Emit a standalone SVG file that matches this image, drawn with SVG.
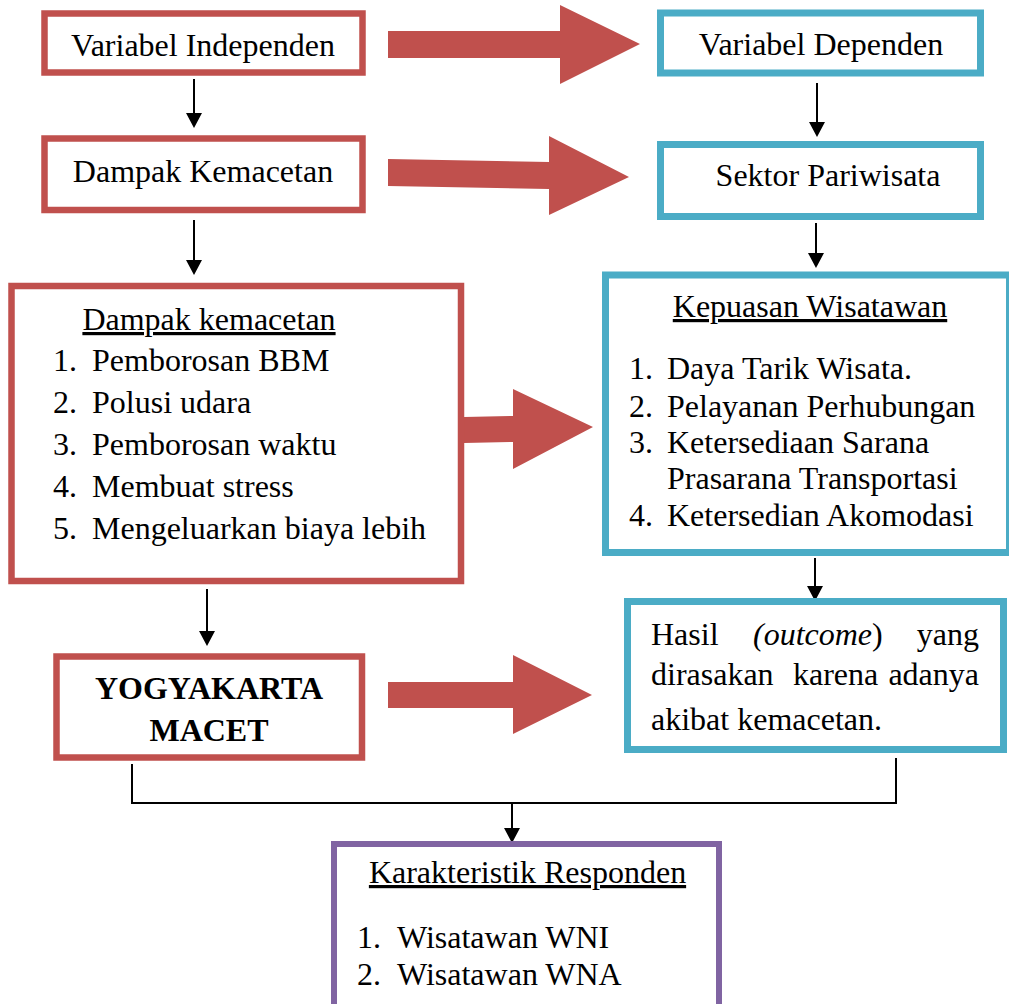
<svg xmlns="http://www.w3.org/2000/svg" width="1009" height="1004" viewBox="0 0 1009 1004">
<style>
.t{font-family:"Liberation Serif","Times New Roman",serif;font-size:32px;fill:#000}
.b{font-weight:bold}
.u{text-decoration:underline}
.red{fill:#fff;stroke:#C0504D;stroke-width:6.5}
.blue{fill:#fff;stroke:#4BACC6;stroke-width:7}
.pur{fill:#fff;stroke:#8064A2;stroke-width:6}
.big{fill:#C0504D}
.ln{fill:none;stroke:#000;stroke-width:2}
</style>
<defs>
<marker id="ah" markerUnits="userSpaceOnUse" markerWidth="15" markerHeight="16" viewBox="0 0 15 16" refX="0" refY="8" orient="auto">
<path d="M0,0 L15,8 L0,16 z" fill="#000"/>
</marker>
</defs>
<rect width="1009" height="1004" fill="#fff"/>

<g id="connectors">
<polygon class="big" points="388,31 560,31 560,5 640,44 560,84 560,58 388,58"/>
<polygon class="big" points="388,159 549,162 549,136 629,177 549,215 549,189 388,186"/>
<polygon class="big" points="464,417 513,416 513,389 593,427 513,469 513,442 464,443"/>
<polygon class="big" points="388,682 513,682 513,655 592,695 513,734 513,708 388,708"/>
<line class="ln" x1="194" y1="79" x2="194" y2="113" marker-end="url(#ah)"/>
<line class="ln" x1="194" y1="220" x2="194" y2="260" marker-end="url(#ah)"/>
<line class="ln" x1="817" y1="83" x2="817" y2="122" marker-end="url(#ah)"/>
<line class="ln" x1="816" y1="223" x2="816" y2="253" marker-end="url(#ah)"/>
<line class="ln" x1="815" y1="558" x2="815" y2="586" marker-end="url(#ah)"/>
<line class="ln" x1="207" y1="589" x2="207" y2="631" marker-end="url(#ah)"/>
<path class="ln" d="M132,764 V803 H896 V758"/>
<line class="ln" x1="512" y1="803" x2="512" y2="828" marker-end="url(#ah)"/>
</g>

<g id="variabel-independen">
<rect class="red" x="44.5" y="13.5" width="318" height="59"/>
<text class="t" x="203" y="56" text-anchor="middle">Variabel Independen</text>
</g>

<g id="dampak-kemacetan">
<rect class="red" x="44.5" y="138.5" width="318" height="71.5"/>
<text class="t" x="203" y="182" text-anchor="middle">Dampak Kemacetan</text>
</g>

<g id="variabel-dependen">
<rect class="blue" x="660.5" y="13" width="320" height="60"/>
<text class="t" x="821" y="55" text-anchor="middle">Variabel Dependen</text>
</g>

<g id="sektor-pariwisata">
<rect class="blue" x="660.5" y="144.5" width="320" height="72"/>
<text class="t" x="828" y="186" text-anchor="middle">Sektor Pariwisata</text>
</g>

<g id="dampak-list">
<rect class="red" x="11.5" y="286" width="449.5" height="295"/>
<text class="t u" x="209" y="330" text-anchor="middle">Dampak kemacetan</text>
<text class="t" x="53" y="371">1.</text><text class="t" x="92" y="371">Pemborosan BBM</text>
<text class="t" x="53" y="413">2.</text><text class="t" x="92" y="413">Polusi udara</text>
<text class="t" x="53" y="455">3.</text><text class="t" x="92" y="455">Pemborosan waktu</text>
<text class="t" x="53" y="497">4.</text><text class="t" x="92" y="497">Membuat stress</text>
<text class="t" x="53" y="539">5.</text><text class="t" x="92" y="539">Mengeluarkan biaya lebih</text>
</g>

<g id="kepuasan-wisatawan">
<rect class="blue" x="605.5" y="275" width="404" height="277.5"/>
<text class="t u" x="810" y="317" text-anchor="middle">Kepuasan Wisatawan</text>
<text class="t" x="629" y="379">1.</text><text class="t" x="667" y="379">Daya Tarik Wisata.</text>
<text class="t" x="629" y="417">2.</text><text class="t" x="667" y="417">Pelayanan Perhubungan</text>
<text class="t" x="629" y="453">3.</text><text class="t" x="667" y="453">Ketersediaan Sarana</text>
<text class="t" x="667" y="489">Prasarana Transportasi</text>
<text class="t" x="629" y="526">4.</text><text class="t" x="667" y="526">Ketersedian Akomodasi</text>
</g>

<g id="yogyakarta-macet">
<rect class="red" x="56.5" y="656.5" width="305.5" height="101"/>
<text class="t b" x="209" y="699" text-anchor="middle">YOGYAKARTA</text>
<text class="t b" x="209" y="741" text-anchor="middle">MACET</text>
</g>

<g id="hasil-outcome">
<rect class="blue" x="627.5" y="601.5" width="376" height="148"/>
<text class="t" y="645"><tspan x="651">Hasil</tspan><tspan x="753" font-style="italic">(outcome</tspan><tspan>)</tspan><tspan x="979" text-anchor="end">yang</tspan></text>
<text class="t" y="685"><tspan x="651">dirasakan</tspan><tspan x="793">karena</tspan><tspan x="979" text-anchor="end">adanya</tspan></text>
<text class="t" x="651" y="730">akibat kemacetan.</text>
</g>

<g id="karakteristik-responden">
<rect class="pur" x="334" y="844" width="385" height="200"/>
<text class="t u" x="527.5" y="883" text-anchor="middle">Karakteristik Responden</text>
<text class="t" x="357" y="948">1.</text><text class="t" x="397" y="948">Wisatawan WNI</text>
<text class="t" x="357" y="985">2.</text><text class="t" x="397" y="985">Wisatawan WNA</text>
</g>
</svg>
